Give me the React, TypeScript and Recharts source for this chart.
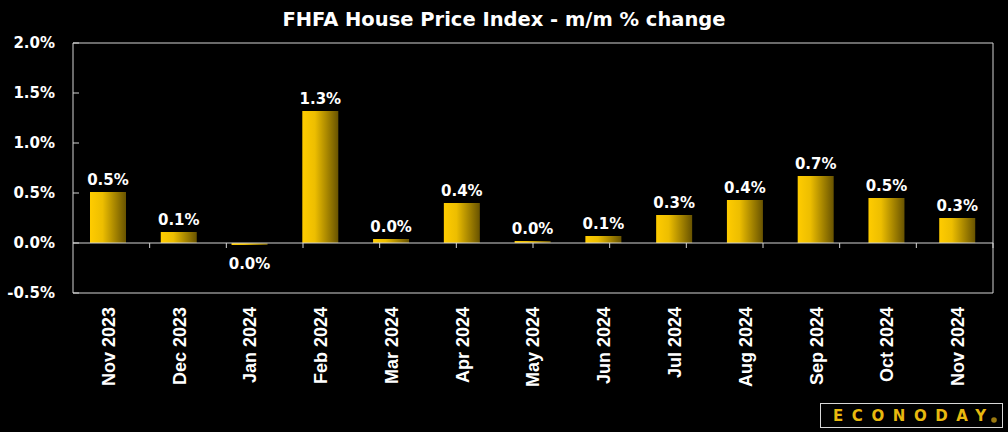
import React from 'react';
import { BarChart, Bar, XAxis, YAxis, ReferenceLine, ReferenceArea, LabelList } from 'recharts';

const categories = ['Nov 2023', 'Dec 2023', 'Jan 2024', 'Feb 2024', 'Mar 2024', 'Apr 2024', 'May 2024', 'Jun 2024', 'Jul 2024', 'Aug 2024', 'Sep 2024', 'Oct 2024', 'Nov 2024'];
const values = [0.51, 0.11, -0.02, 1.32, 0.04, 0.40, 0.02, 0.07, 0.28, 0.43, 0.67, 0.45, 0.25];
const yTicks = [-0.5, 0, 0.5, 1, 1.5, 2];
const title = 'FHFA House Price Index - m/m % change';

const data = categories.map((c, i) => ({ name: c, value: values[i] }));
const boundaries = categories.slice(1).map((_, i) => i + 1);

const LINE = '#d4d4d4';
const FONT = "'DejaVu Sans', sans-serif";

const fmt = (v: number) => {
  const s = v.toFixed(1);
  return (s === '-0.0' ? '0.0' : s) + '%';
};

const YTick = (props: any) => {
  const { x, y, payload } = props;
  return (
    <g>
      <line x1={x} x2={x + 6} y1={y} y2={y} stroke={LINE} strokeWidth={1} />
      <text x={x - 18} y={y} dy="0.36em" textAnchor="end" fill="#fff" fontFamily={FONT} fontWeight="bold" fontSize={15}>
        {fmt(payload.value)}
      </text>
    </g>
  );
};

const XTick = (props: any) => {
  const { x, y, payload } = props;
  return (
    <text
      transform={`translate(${x},${y + 14}) rotate(-90)`}
      textAnchor="end"
      dy="0.36em"
      fill="#fff"
      fontFamily="'Liberation Sans', Arial, sans-serif"
      fontWeight="bold"
      fontSize={18}
    >
      {payload.value}
    </text>
  );
};

const BarLabel = (props: any) => {
  const { x, y, width, height, value } = props;
  const top = Math.min(y, y + height);
  const bottom = Math.max(y, y + height);
  const cx = x + width / 2;
  const ty = value >= 0 ? top - 7 : bottom + 24;
  return (
    <text x={cx} y={ty} textAnchor="middle" fill="#fff" fontFamily={FONT} fontWeight="bold" fontSize={15}>
      {fmt(value)}
    </text>
  );
};

export default function App() {
  return (
    <div style={{ position: 'fixed', left: 0, top: 0, width: 1008, height: 432, background: '#000' }}>
      <BarChart width={1008} height={432} data={data} margin={{ top: 43, right: 15, bottom: 0, left: 0 }}>
        <defs>
          <linearGradient id="goldGrad" x1="0" y1="0" x2="1" y2="0">
            <stop offset="0%" stopColor="#FFCC00" />
            <stop offset="35%" stopColor="#EDBE00" />
            <stop offset="100%" stopColor="#685300" />
          </linearGradient>
        </defs>
        <XAxis dataKey="name" height={139} axisLine={false} tickLine={false} tickSize={0} tickMargin={0} interval={0} tick={<XTick />} />
        <XAxis xAxisId="grid" type="number" domain={[0, 13]} hide />
        <YAxis width={73} domain={[-0.5, 2]} ticks={yTicks} axisLine={false} tickLine={false} tickSize={0} tickMargin={0} tick={<YTick />} />
        <ReferenceArea y1={-0.5} y2={2} fill="none" stroke={LINE} strokeWidth={1} ifOverflow="visible" />
        <Bar dataKey="value" fill="url(#goldGrad)" barSize={36} isAnimationActive={false}>
          <LabelList dataKey="value" content={<BarLabel />} />
        </Bar>
        <ReferenceLine y={0} stroke={LINE} strokeWidth={1} />
        {boundaries.map((b) => (
          <ReferenceLine key={b} xAxisId="grid" segment={[{ x: b, y: 0 }, { x: b, y: -0.05 }]} stroke={LINE} strokeWidth={1} ifOverflow="visible" />
        ))}
      </BarChart>
      <svg width={1008} height={432} style={{ position: 'absolute', left: 0, top: 0, pointerEvents: 'none' }}>
        <text x={504} y={26} textAnchor="middle" fill="#fff" fontFamily={FONT} fontWeight="bold" fontSize={19.5}>
          {title}
        </text>
        <rect x={820.5} y={403.5} width={182} height={24} fill="#000" stroke="#d8d8d8" strokeWidth={1} />
        <text x={833} y={421} fill="#E8B90F" fontFamily={FONT} fontWeight="bold" fontSize={15} textLength={153} lengthAdjust="spacing">
          ECONODAY
        </text>
        <circle cx={994} cy={420} r={2.8} fill="#9C7A10" />
      </svg>
    </div>
  );
}
